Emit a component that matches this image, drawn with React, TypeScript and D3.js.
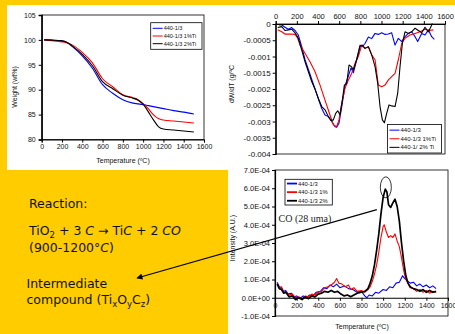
import { useEffect, useRef } from "react";
import * as d3 from "d3";

type Pt = [number, number];

const FONT = "Liberation Sans, Arial, sans-serif";
const colors = ["#0000ff", "#ff0000", "#000000"];

// legends
const tgaNames = ["440-1/3", "440-1/3 1%Ti", "440-1/3 2%Ti"];
const dtgNames = ["440-1/3", "440-1/3 1%Ti", "440-1/ 2% Ti"];
const msNames = ["440-1/3", "440-1/3 1%", "440-1/3 2%"];

// ticks
const tempTicks = [0, 200, 400, 600, 800, 1000, 1200, 1400, 1600];
const tgaTicks = [80, 85, 90, 95, 100, 105];
const dtgTicks = [0, -0.0005, -0.001, -0.0015, -0.002, -0.0025, -0.003, -0.0035, -0.004];
const msTicks = [-1, 0, 1, 2, 3, 4, 5, 6, 7]; // x 1E-04
const msTickLabels = ["-1.0E-04", "0.0E+00", "1.0E-04", "2.0E-04", "3.0E-04", "4.0E-04", "5.0E-04", "6.0E-04", "7.0E-04"];

// TGA weight (wt%)
const tgaTemp = [25, 100, 200, 250, 300, 400, 500, 600, 700, 800, 900, 950, 1000, 1050, 1100, 1150, 1200, 1300, 1400, 1500];
const tgaBlue = [100, 99.95, 99.8, 99.5, 98.7, 96.8, 94.3, 91.0, 89.3, 88.0, 87.3, 87.15, 87.0, 86.8, 86.6, 86.4, 86.2, 85.8, 85.5, 85.1];
const tgaRed = [100, 99.85, 99.6, 99.4, 99.0, 97.5, 95.4, 92.2, 90.6, 89.0, 88.4, 88.0, 87.2, 86.2, 85.0, 84.2, 83.9, 83.7, 83.5, 83.3];
const tgaBlack = [100, 99.95, 99.8, 99.5, 98.8, 97.1, 94.8, 91.6, 90.2, 88.9, 88.3, 87.9, 87.1, 85.6, 84.0, 82.6, 82.1, 81.9, 81.7, 81.5];

// DTG dW/dT (g/ºC)
const dtgBlue: Pt[] = [[31, -0.00003], [57, -0.00003], [88, -0.0001], [120, -0.00016], [151, -0.00011], [183, -0.0002], [214, -0.00034], [246, -0.0007], [277, -0.0011], [309, -0.0014], [340, -0.0017], [372, -0.002], [403, -0.0023], [435, -0.0026], [466, -0.0028], [498, -0.00285], [529, -0.003], [561, -0.00316], [576, -0.00318], [598, -0.00305], [624, -0.00255], [655, -0.0019], [687, -0.0016], [712, -0.00135], [734, -0.0015], [765, -0.0011], [797, -0.00065], [819, -0.0007], [844, -0.0006], [876, -0.0004], [907, -0.00045], [939, -0.00029], [970, -0.00032], [1002, -0.00027], [1033, -0.00032], [1065, -0.00031], [1096, -0.00027], [1128, -0.00065], [1159, -0.00044], [1191, -0.00054], [1222, -0.00039], [1254, -0.00029], [1285, -0.00024], [1317, -0.00039], [1342, -0.00054], [1380, -0.00029], [1411, -0.00034], [1443, -0.00018], [1474, -0.00039], [1499, -0.00047]];
const dtgRed: Pt[] = [[19, -0.00018], [57, -0.00024], [88, -0.00031], [135, -0.00031], [183, -0.00032], [208, -0.00044], [230, -0.00065], [277, -0.0009], [324, -0.00116], [372, -0.00147], [419, -0.00188], [466, -0.00234], [513, -0.0028], [545, -0.0031], [576, -0.00316], [598, -0.00295], [624, -0.00244], [655, -0.00198], [687, -0.00172], [718, -0.00152], [750, -0.00121], [781, -0.001], [813, -0.00065], [844, -0.00075], [876, -0.0007], [907, -0.00095], [939, -0.0011], [970, -0.00188], [1002, -0.00193], [1033, -0.00188], [1065, -0.00172], [1096, -0.00162], [1128, -0.00152], [1159, -0.0011], [1191, -0.0006], [1222, -0.00044], [1269, -0.00034], [1317, -0.00029], [1364, -0.00024], [1411, -0.00016], [1449, -0.0002], [1490, -0.00018]];
const dtgBlack: Pt[] = [[19, -0.00011], [57, -0.00008], [88, -0.0002], [120, -0.00018], [151, -0.00016], [183, -0.00027], [214, -0.00044], [246, -0.0008], [277, -0.00116], [309, -0.00147], [340, -0.00177], [372, -0.00201], [403, -0.00229], [435, -0.00254], [466, -0.00264], [498, -0.00285], [523, -0.00297], [545, -0.00295], [567, -0.00275], [586, -0.00267], [608, -0.00279], [630, -0.00234], [649, -0.00188], [671, -0.00183], [693, -0.00126], [718, -0.00132], [734, -0.00142], [765, -0.0011], [797, -0.00069], [819, -0.00065], [844, -0.00075], [876, -0.0007], [907, -0.00095], [939, -0.00131], [964, -0.00183], [986, -0.00254], [1008, -0.00295], [1027, -0.00304], [1049, -0.00275], [1071, -0.00249], [1096, -0.00252], [1128, -0.00254], [1153, -0.00213], [1175, -0.00131], [1197, -0.0006], [1222, -0.00024], [1254, -0.00029], [1285, -0.00024], [1317, -0.00013], [1348, -0.0002], [1380, -0.00027], [1411, -0.0001], [1443, -0.00024], [1468, -0.00008], [1480, 0.00002]];

// MS intensity, CO (28 uma), in units of 1E-04
const msBlue: Pt[] = [[20, 0.85], [40, 0.6], [60, 0.55], [80, 0.35], [100, 0.4], [120, 0.2], [150, 0.25], [180, 0.05], [200, 0.1], [230, -0.05], [260, 0.1], [290, 0.0], [320, 0.15], [350, 0.1], [380, 0.3], [420, 0.35], [450, 0.55], [480, 0.5], [510, 0.7], [540, 0.6], [570, 0.75], [600, 0.55], [640, 0.65], [680, 0.5], [720, 0.45], [760, 0.3], [800, 0.35], [830, 0.1], [850, 0.0], [870, 0.15], [900, 0.1], [930, 0.3], [960, 0.25], [1000, 0.45], [1030, 0.4], [1060, 0.6], [1090, 0.55], [1120, 0.8], [1150, 0.85], [1180, 1.2], [1200, 1.05], [1220, 0.95], [1250, 0.8], [1280, 0.85], [1310, 0.65], [1340, 0.75], [1370, 0.6], [1400, 0.7], [1430, 0.55], [1460, 0.65], [1490, 0.5]];
const msRed: Pt[] = [[20, 0.8], [40, 0.55], [60, 0.6], [80, 0.3], [100, 0.35], [130, 0.15], [160, 0.2], [190, 0.0], [220, 0.05], [250, -0.05], [280, 0.1], [310, 0.05], [340, 0.2], [370, 0.15], [400, 0.3], [430, 0.35], [460, 0.55], [490, 0.6], [520, 0.7], [550, 0.85], [570, 1.05], [590, 0.8], [620, 0.75], [650, 0.6], [680, 0.7], [700, 0.45], [730, 0.55], [760, 0.35], [800, 0.4], [830, 0.3], [860, 0.45], [880, 0.6], [900, 0.9], [920, 1.3], [940, 1.8], [960, 2.5], [980, 3.3], [1000, 3.9], [1010, 4.0], [1030, 3.6], [1050, 3.3], [1070, 3.4], [1090, 3.3], [1110, 3.5], [1130, 3.1], [1150, 2.8], [1170, 2.2], [1190, 1.5], [1210, 1.0], [1230, 0.8], [1250, 0.55], [1280, 0.5], [1310, 0.35], [1340, 0.45], [1370, 0.3], [1400, 0.4], [1430, 0.25], [1460, 0.35], [1490, 0.3]];
const msBlack: Pt[] = [[20, 0.75], [40, 0.5], [60, 0.45], [80, 0.25], [100, 0.3], [130, 0.05], [160, 0.1], [190, -0.1], [220, 0.0], [250, -0.1], [280, 0.05], [310, -0.05], [340, 0.1], [370, 0.05], [400, 0.2], [430, 0.25], [460, 0.35], [490, 0.3], [520, 0.4], [550, 0.3], [580, 0.35], [610, 0.2], [640, 0.1], [670, 0.15], [700, 0.05], [730, 0.15], [760, 0.25], [800, 0.3], [830, 0.35], [860, 0.5], [880, 0.8], [900, 1.2], [920, 1.8], [940, 2.6], [960, 3.5], [980, 4.6], [1000, 5.5], [1020, 5.95], [1035, 5.8], [1050, 5.1], [1070, 4.95], [1090, 5.2], [1110, 5.4], [1130, 5.0], [1150, 4.2], [1170, 3.0], [1190, 2.0], [1210, 1.2], [1230, 0.8], [1250, 0.6], [1280, 0.5], [1310, 0.45], [1340, 0.35], [1370, 0.45], [1400, 0.3], [1430, 0.4], [1460, 0.3], [1490, 0.35]];

function styleAxis(g: any, size: number) {
  g.select(".domain").attr("stroke", "#000");
  g.selectAll(".tick line").attr("stroke", "#000");
  g.selectAll("text").attr("font-family", FONT).attr("font-size", size).attr("fill", "#111");
  g.attr("font-family", null).attr("font-size", null);
}

function legend(svg: any, x: number, y: number, w: number, h: number, names: string[], rowGap: number, fs: number, lw: number) {
  const g = svg.append("g");
  g.append("rect").attr("x", x).attr("y", y).attr("width", w).attr("height", h)
    .attr("fill", "#fff").attr("stroke", "#000").attr("stroke-width", 0.8);
  names.forEach((n, i) => {
    const cy = y + rowGap * (i + 0.5) + (h - rowGap * 3) / 2;
    g.append("line").attr("x1", x + 2).attr("x2", x + 12).attr("y1", cy).attr("y2", cy)
      .attr("stroke", colors[i]).attr("stroke-width", lw);
    g.append("text").attr("x", x + 13).attr("y", cy).attr("dy", "0.35em")
      .attr("font-family", FONT).attr("font-size", fs).attr("fill", "#111").text(n);
  });
}

export default function App() {
  const ref = useRef<SVGSVGElement>(null);

  useEffect(() => {
    const svg = d3.select(ref.current);
    svg.selectAll("*").remove();

    // background
    svg.append("rect").attr("width", 455).attr("height", 334).attr("fill", "#ffcc00");
    svg.append("rect").attr("x", 7).attr("y", 5).attr("width", 448).attr("height", 165).attr("fill", "#fff");
    svg.append("rect").attr("x", 228).attr("y", 5).attr("width", 227).attr("height", 329).attr("fill", "#fff");

    // ---------- chart 1 : TGA ----------
    const x1 = d3.scaleLinear().domain([0, 1600]).range([41.7, 204]);
    const y1 = d3.scaleLinear().domain([80, 105]).range([139.5, 15]);
    svg.append("rect").attr("x", 41.7).attr("y", 15).attr("width", 162.3).attr("height", 124.5)
      .attr("fill", "none").attr("stroke", "#000").attr("stroke-width", 0.8);
    const line1 = d3.line<number>().x((_, i) => x1(tgaTemp[i])).y(d => y1(d)).curve(d3.curveMonotoneX);
    [tgaBlue, tgaRed, tgaBlack].forEach((s, i) => {
      svg.append("path").attr("d", line1(s)).attr("fill", "none").attr("stroke", colors[i]).attr("stroke-width", 1.1);
    });
    const ax1 = svg.append("g").attr("transform", "translate(0,139.5)")
      .call(d3.axisBottom(x1).tickValues(tempTicks).tickSize(3).tickPadding(2).tickFormat(d3.format("d")));
    styleAxis(ax1, 7);
    const ay1 = svg.append("g").attr("transform", "translate(41.7,0)")
      .call(d3.axisLeft(y1).tickValues(tgaTicks).tickSize(3).tickPadding(3).tickFormat(d3.format("d")));
    styleAxis(ay1, 7);
    ay1.select(".domain").attr("stroke-width", 1.4);
    svg.append("text").attr("x", 123).attr("y", 162.5).attr("text-anchor", "middle")
      .attr("font-family", FONT).attr("font-size", 7).attr("fill", "#111").text("Temperature (ºC)");
    svg.append("text").attr("transform", "translate(17,87) rotate(-90)").attr("text-anchor", "middle")
      .attr("font-family", FONT).attr("font-size", 7).attr("fill", "#111").text("Weight (wt%)");
    legend(svg, 150.7, 22.7, 51.3, 26.6, tgaNames, 7.7, 5.5, 1);

    // ---------- chart 2 : DTG ----------
    const x2 = d3.scaleLinear().domain([0, 1600]).range([275.7, 445]);
    const y2 = d3.scaleLinear().domain([-0.004, 0]).range([154, 24]);
    svg.append("rect").attr("x", 275.7).attr("y", 24).attr("width", 169.3).attr("height", 130)
      .attr("fill", "none").attr("stroke", "#000").attr("stroke-width", 0.8);
    const line2 = d3.line<Pt>().x(d => x2(d[0])).y(d => y2(d[1]));
    [dtgBlue, dtgRed, dtgBlack].forEach((s, i) => {
      svg.append("path").attr("d", line2(s)).attr("fill", "none").attr("stroke", colors[i])
        .attr("stroke-width", 1.1).attr("stroke-linejoin", "round");
    });
    const ax2 = svg.append("g").attr("transform", "translate(0,24)")
      .call(d3.axisTop(x2).tickValues(tempTicks).tickSize(3).tickPadding(2).tickFormat(d3.format("d")));
    styleAxis(ax2, 7.5);
    const ay2 = svg.append("g").attr("transform", "translate(275.7,0)")
      .call(d3.axisLeft(y2).tickValues(dtgTicks).tickSize(3).tickPadding(2).tickFormat(d => String(d)));
    styleAxis(ay2, 8);
    ay2.select(".domain").attr("stroke-width", 1.2);
    svg.append("text").attr("transform", "translate(234,84) rotate(-90)").attr("text-anchor", "middle")
      .attr("font-family", FONT).attr("font-size", 7).attr("fill", "#111").text("dW/dT (g/ºC");
    legend(svg, 387.5, 124.5, 54, 28.5, dtgNames, 8.6, 6, 1);

    // ---------- chart 3 : MS ----------
    const x3 = d3.scaleLinear().domain([0, 1600]).range([275, 448]);
    const y3 = d3.scaleLinear().domain([-1, 7]).range([316, 170]);
    svg.append("rect").attr("x", 275).attr("y", 170).attr("width", 173).attr("height", 146)
      .attr("fill", "none").attr("stroke", "#000").attr("stroke-width", 0.8);
    const line3 = d3.line<Pt>().x(d => x3(d[0])).y(d => y3(d[1]));
    [msBlue, msRed, msBlack].forEach((s, i) => {
      svg.append("path").attr("d", line3(s)).attr("fill", "none").attr("stroke", colors[i])
        .attr("stroke-width", i === 2 ? 1.7 : 1.1).attr("stroke-linejoin", "round");
    });
    const ax3 = svg.append("g").attr("transform", `translate(0,${y3(0)})`)
      .call(d3.axisBottom(x3).tickValues(tempTicks).tickSize(3).tickPadding(2).tickFormat(d3.format("d")));
    styleAxis(ax3, 7);
    const ay3 = svg.append("g").attr("transform", "translate(275,0)")
      .call(d3.axisLeft(y3).tickValues(msTicks).tickSize(3).tickPadding(2).tickFormat((_, i) => msTickLabels[i]));
    styleAxis(ay3, 7.5);
    ay3.select(".domain").attr("stroke-width", 1.2);
    svg.append("text").attr("x", 362).attr("y", 329).attr("text-anchor", "middle")
      .attr("font-family", FONT).attr("font-size", 7).attr("fill", "#111").text("Temperature (ºC)");
    svg.append("text").attr("transform", "translate(235,238) rotate(-90)").attr("text-anchor", "middle")
      .attr("font-family", FONT).attr("font-size", 7).attr("fill", "#111").text("Intensity (A.U.)");
    legend(svg, 285, 179.3, 47.3, 25.7, msNames, 8.6, 5.8, 1.8);

    svg.append("text").attr("x", 278.5).attr("y", 222).attr("font-family", "Liberation Serif, Times New Roman, serif")
      .attr("font-size", 10).attr("fill", "#222").text("CO (28 uma)");
    svg.append("ellipse").attr("cx", x3(1025)).attr("cy", y3(6.05)).attr("rx", 5.5).attr("ry", 10.5)
      .attr("fill", "none").attr("stroke", "#000").attr("stroke-width", 0.8);

    // arrow
    const defs = svg.append("defs");
    defs.append("marker").attr("id", "arr").attr("viewBox", "0 0 10 10").attr("refX", 9).attr("refY", 5)
      .attr("markerWidth", 7).attr("markerHeight", 6).attr("orient", "auto-start-reverse").attr("markerUnits", "userSpaceOnUse")
      .append("path").attr("d", "M0,0L10,5L0,10z").attr("fill", "#000");
    svg.append("line").attr("x1", x3(942)).attr("y1", y3(4.83)).attr("x2", 137).attr("y2", 278)
      .attr("stroke", "#000").attr("stroke-width", 1.1).attr("marker-end", "url(#arr)");

    // ---------- text block ----------
    const tf = "DejaVu Sans, Verdana, sans-serif";
    const t = svg.append("g").attr("font-family", tf).attr("font-size", 12.5).attr("fill", "#111");
    t.append("text").attr("x", 29).attr("y", 208).text("Reaction:");
    const l2 = t.append("text").attr("x", 29).attr("y", 235);
    l2.append("tspan").text("TiO");
    l2.append("tspan").attr("font-size", 8.5).attr("dy", 2.5).text("2");
    l2.append("tspan").attr("dy", -2.5).text(" + 3 ");
    l2.append("tspan").attr("font-style", "italic").text("C");
    l2.append("tspan").text(" \u2192  Ti");
    l2.append("tspan").attr("font-style", "italic").text("C");
    l2.append("tspan").text(" + 2 ");
    l2.append("tspan").attr("font-style", "italic").text("CO");
    const l3 = t.append("text").attr("x", 29).attr("y", 251.5);
    l3.append("tspan").text("(900-1200°");
    l3.append("tspan").attr("font-style", "italic").text("C");
    l3.append("tspan").text(")");
    t.append("text").attr("x", 26.5).attr("y", 288).text("Intermediate");
    const l5 = t.append("text").attr("x", 26.5).attr("y", 304);
    l5.append("tspan").text("compound (Ti");
    l5.append("tspan").attr("font-size", 8.5).attr("dy", 3).text("x");
    l5.append("tspan").attr("dy", -3).text("O");
    l5.append("tspan").attr("font-size", 8.5).attr("dy", 3).text("y");
    l5.append("tspan").attr("dy", -3).text("C");
    l5.append("tspan").attr("font-size", 8.5).attr("dy", 3).text("z");
    l5.append("tspan").attr("dy", -3).text(")");
  }, []);

  return (
    <svg ref={ref} width={455} height={334} style={{ position: "absolute", left: 0, top: 0 }} />
  );
}
